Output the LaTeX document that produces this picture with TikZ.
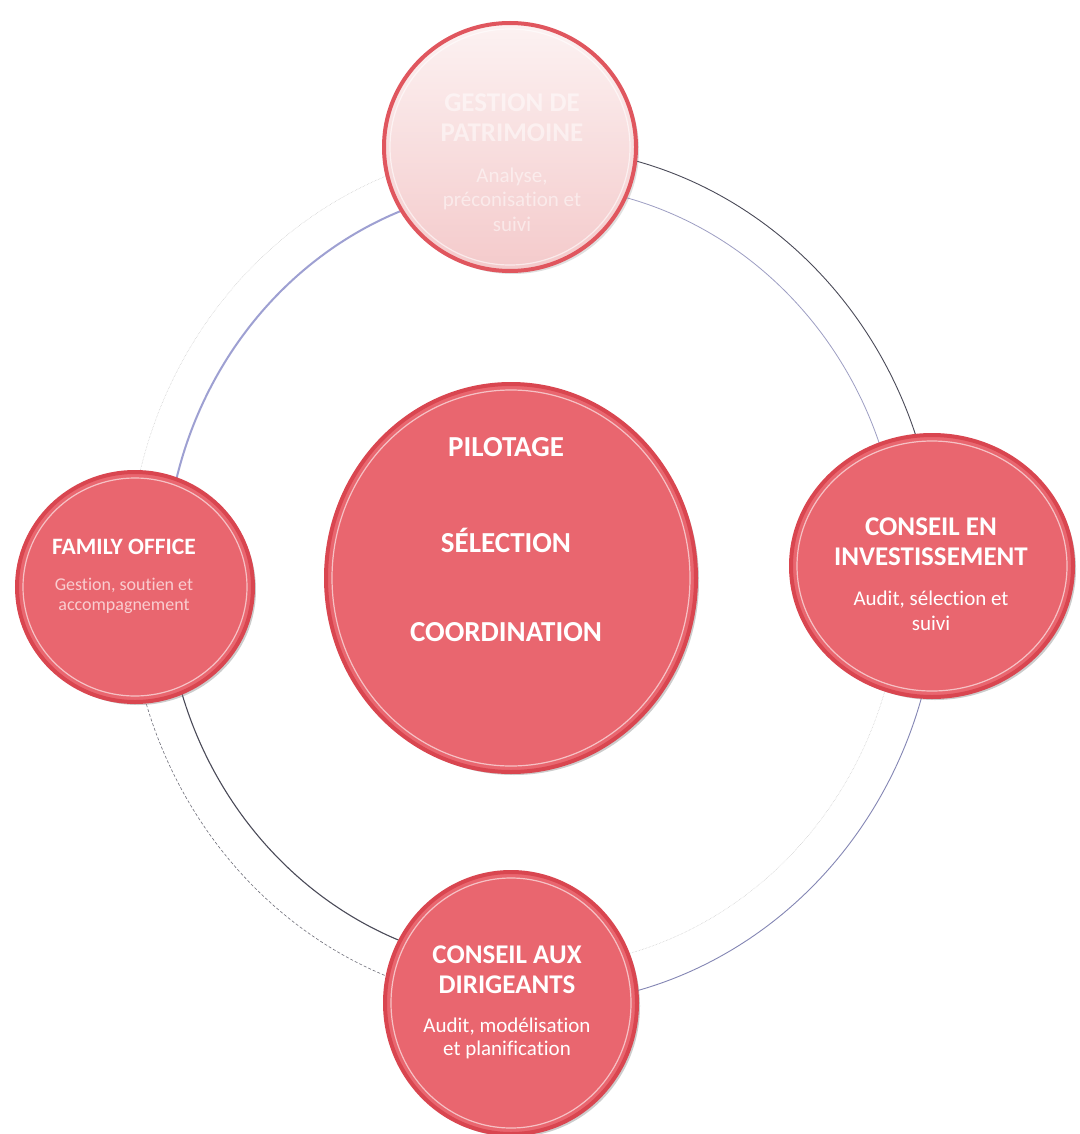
\documentclass[tikz,border=0pt]{standalone}
\usepackage{fontspec}
\setmainfont{Carlito}[RawFeature={-liga;-clig;-calt;-dlig}]
\usetikzlibrary{shapes.geometric,shadows}
\definecolor{bubred}{HTML}{E9666F}
\definecolor{bubedge}{HTML}{D94650}
\definecolor{topA}{HTML}{FCF2F2}
\definecolor{topB}{HTML}{F4CACB}
\definecolor{topedge}{HTML}{E0565E}
\definecolor{ringblue}{HTML}{9EA0D2}
\definecolor{ringdark}{HTML}{4A4A58}
\definecolor{ringmid}{HTML}{8486B4}
\definecolor{fadedtext}{HTML}{F9CDD0}
\begin{document}
\begin{tikzpicture}[x=1pt,y=1pt,
  bub/.style={ellipse, inner sep=0pt, fill=bubred, draw=bubedge, line width=4pt,
    drop shadow={opacity=.4, shadow xshift=3pt, shadow yshift=-3pt}},
  topbub/.style={ellipse, inner sep=0pt, top color=topA, bottom color=topB, draw=topedge, line width=4pt,
    drop shadow={opacity=.25, shadow xshift=3pt, shadow yshift=-3pt}},
  gloss/.style={draw=white, opacity=.6, line width=1.2pt},
  ttl/.style={text=white, font=\bfseries\fontsize{27}{30}\selectfont, inner sep=0pt},
  coretxt/.style={text=white, font=\bfseries\fontsize{29}{32}\selectfont, inner sep=0pt},
  sml/.style={text=white, font=\bfseries\fontsize{23.5}{26}\selectfont, inner sep=0pt},
  sub/.style={text=white, font=\fontsize{21}{24}\selectfont, inner sep=0pt},
  subs/.style={text=fadedtext, font=\fontsize{18}{21}\selectfont, inner sep=0pt},
  toptxt/.style={text=white, opacity=.5, inner sep=0pt},
  ringUL/.style={draw=gray!45, line width=.5pt, densely dotted},
  ringULi/.style={draw=ringblue, line width=2pt},
  ringUR/.style={draw=ringdark, line width=.9pt},
  ringURi/.style={draw=ringmid!80, line width=.8pt},
  ringLL/.style={draw=ringdark!80, line width=.6pt, densely dashed},
  ringLLi/.style={draw=ringdark, line width=1.1pt},
  ringLR/.style={draw=ringmid, line width=.9pt},
  ringLRi/.style={draw=gray!45, line width=.5pt, densely dotted}]
\useasboundingbox (0,0) rectangle (1079,-1134);
\fill[white] (0,0) rectangle (1079,-1134);

% ring
\coordinate (rc) at (533,-576);
\draw[ringUR] (rc) ++(0:405 and 429) arc[start angle=0,end angle=90,x radius=405,y radius=429];
\draw[ringUL] (rc) ++(90:405 and 429) arc[start angle=90,end angle=180,x radius=405,y radius=429];
\draw[ringLL] (rc) ++(180:405 and 429) arc[start angle=180,end angle=270,x radius=405,y radius=429];
\draw[ringLR] (rc) ++(270:405 and 429) arc[start angle=270,end angle=360,x radius=405,y radius=429];
\draw[ringURi] (rc) ++(0:368 and 391) arc[start angle=0,end angle=90,x radius=368,y radius=391];
\draw[ringULi] (rc) ++(90:368 and 391) arc[start angle=90,end angle=180,x radius=368,y radius=391];
\draw[ringLLi] (rc) ++(180:368 and 391) arc[start angle=180,end angle=270,x radius=368,y radius=391];
\draw[ringLRi] (rc) ++(270:368 and 391) arc[start angle=270,end angle=360,x radius=368,y radius=391];

% bubbles
\node[topbub, minimum width=252pt, minimum height=248pt] (top) at (510,-147) {};
\draw[gloss] (top.center) ellipse [x radius=120, y radius=118];
\node[bub, minimum width=236pt, minimum height=230pt] (left) at (135,-587) {};
\draw[gloss] (left.center) ellipse [x radius=112, y radius=109];
\node[bub, minimum width=282pt, minimum height=262pt] (right) at (932,-566) {};
\draw[gloss] (right.center) ellipse [x radius=135, y radius=125];
\node[bub, minimum width=252pt, minimum height=262pt] (bottom) at (511,-1003) {};
\draw[gloss] (bottom.center) ellipse [x radius=120, y radius=125];
\node[bub, minimum width=370pt, minimum height=388pt] (core) at (511,-578) {};
\draw[gloss] (core.center) ellipse [x radius=179, y radius=188];

% core text
\node[coretxt] (c1) at (506,-447) {PILOTAGE};
\node[coretxt] (c2) at (506,-540) {SÉLECTION};
\node[coretxt] (c3) at (506,-632) {COORDINATION};

% left
\node[sml] (l1) at (124,-547) {FAMILY OFFICE};
\node[subs] (l2) at (124,-585) {Gestion, soutien et};
\node[subs] (l3) at (124,-606) {accompagnement};

% right
\node[ttl] (r1) at (931,-527) {CONSEIL EN};
\node[ttl] (r2) at (931,-557) {INVESTISSEMENT};
\node[sub] (r3) at (931,-600) {Audit, sélection et};
\node[sub] (r4) at (931,-623) {suivi};

% bottom
\node[ttl] (b1) at (507,-955) {CONSEIL AUX};
\node[ttl] (b2) at (507,-985) {DIRIGEANTS};
\node[sub] (b3) at (507,-1027) {Audit, modélisation};
\node[sub] (b4) at (507,-1050) {et planification};

% top (faded)
\node[ttl, toptxt] (t1) at (512,-103) {GESTION DE};
\node[ttl, toptxt] (t2) at (512,-133) {PATRIMOINE};
\node[sub, toptxt] (t3) at (512,-177) {Analyse,};
\node[sub, toptxt] (t4) at (512,-201) {préconisation et};
\node[sub, toptxt] (t5) at (512,-224) {suivi};
\end{tikzpicture}
\end{document}
